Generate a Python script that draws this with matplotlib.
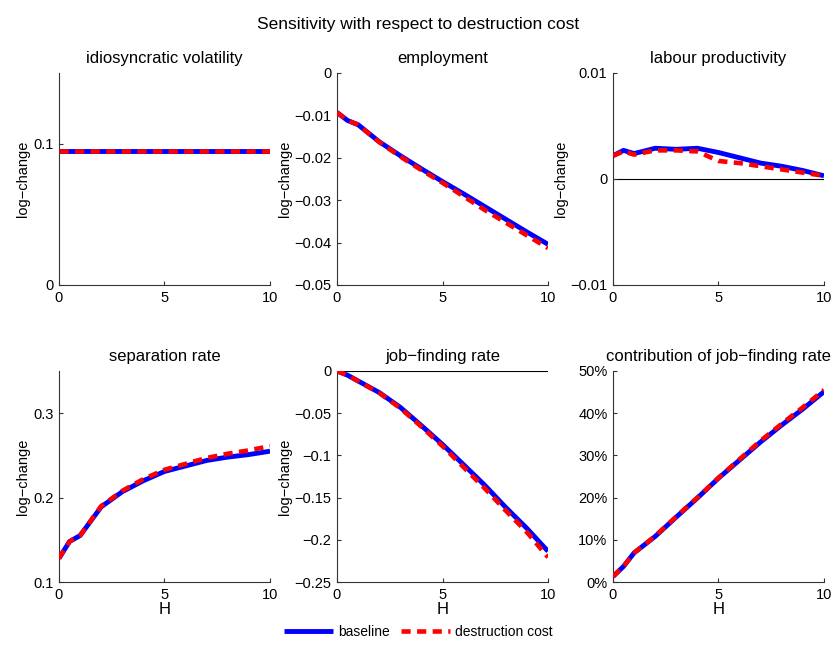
import matplotlib
matplotlib.use("Agg")
import matplotlib.pyplot as plt
from matplotlib.ticker import FuncFormatter

plt.rcParams['font.family'] = ['Liberation Sans', 'DejaVu Sans']

H = [0, 0.5, 1, 2, 3, 4, 5, 6, 7, 8, 9, 10]

vol_base = [0.095] * 12
vol_dest = [0.095] * 12

emp_base = [-0.0093, -0.0112, -0.0122, -0.0162, -0.0195, -0.0226, -0.0256, -0.0285, -0.0315, -0.0345, -0.0375, -0.0404]
emp_dest = [-0.0093, -0.0112, -0.0122, -0.0163, -0.0197, -0.0229, -0.0259, -0.0291, -0.0323, -0.0353, -0.0383, -0.0413]

prod_base = [0.0022, 0.0027, 0.0024, 0.0029, 0.0028, 0.0029, 0.0025, 0.0020, 0.0015, 0.0012, 0.0008, 0.0003]
prod_dest = [0.0022, 0.0026, 0.0023, 0.0027, 0.0027, 0.0026, 0.0017, 0.0015, 0.0012, 0.0009, 0.0006, 0.0003]

sep_base = [0.128, 0.148, 0.155, 0.189, 0.207, 0.220, 0.231, 0.2375, 0.244, 0.248, 0.251, 0.255]
sep_dest = [0.128, 0.148, 0.155, 0.190, 0.208, 0.222, 0.233, 0.240, 0.247, 0.252, 0.256, 0.261]

jf_base = [0.0, -0.005, -0.0118, -0.0255, -0.043, -0.0647, -0.087, -0.111, -0.1353, -0.1617, -0.1865, -0.2136]
jf_dest = [0.0, -0.005, -0.0120, -0.0260, -0.044, -0.066, -0.089, -0.114, -0.139, -0.1655, -0.191, -0.2207]

contr_base = [0.013, 0.037, 0.069, 0.108, 0.154, 0.199, 0.246, 0.289, 0.332, 0.372, 0.410, 0.451]
contr_dest = [0.013, 0.037, 0.069, 0.109, 0.155, 0.200, 0.247, 0.291, 0.335, 0.375, 0.414, 0.455]

titles = ['idiosyncratic volatility', 'employment', 'labour productivity',
          'separation rate', 'job\u2212finding rate', 'contribution of job\u2212finding rate']
series = [(vol_base, vol_dest), (emp_base, emp_dest), (prod_base, prod_dest),
          (sep_base, sep_dest), (jf_base, jf_dest), (contr_base, contr_dest)]
ylims = [(0, 0.15), (-0.05, 0), (-0.01, 0.01), (0.1, 0.35), (-0.25, 0), (0, 0.5)]
yticks = [[0, 0.1], [-0.05, -0.04, -0.03, -0.02, -0.01, 0], [-0.01, 0, 0.01],
          [0.1, 0.2, 0.3], [-0.25, -0.2, -0.15, -0.1, -0.05, 0], [0, 0.1, 0.2, 0.3, 0.4, 0.5]]
zero_line = [False, False, True, False, True, False]

W, Hh = 837, 646
fig = plt.figure(figsize=(W / 100, Hh / 100), dpi=100)

lefts = [59, 337, 613]
aw = 211
rows = [(73, 285), (371, 582)]


def gfmt(v, pos):
    s = '%g' % round(v, 6)
    return s.replace('-', '\u2212')


def pfmt(v, pos):
    return '%d%%' % round(v * 100)


axes = []
for i in range(6):
    r, c = divmod(i, 3)
    top, bot = rows[r]
    ax = fig.add_axes([lefts[c] / W, (Hh - bot) / Hh, aw / W, (bot - top) / Hh])
    b, d = series[i]
    if zero_line[i]:
        ax.axhline(0, color='black', lw=0.8, zorder=1)
    lb, = ax.plot(H, b, color='#0000ff', lw=3.5, solid_capstyle='butt', zorder=2)
    ld, = ax.plot(H, d, color='#ff0000', lw=3.3, dashes=(2.0, 1.4), zorder=3)
    ax.set_xlim(0, 10)
    ax.set_ylim(*ylims[i])
    ax.set_xticks([0, 5, 10])
    ax.set_yticks(yticks[i])
    ax.yaxis.set_major_formatter(FuncFormatter(pfmt if i == 5 else gfmt))
    ax.xaxis.set_major_formatter(FuncFormatter(gfmt))
    for s in ['top', 'right']:
        ax.spines[s].set_visible(False)
    for s in ['left', 'bottom']:
        ax.spines[s].set_color('#333333')
        ax.spines[s].set_linewidth(0.8)
    ax.tick_params(direction='in', length=3, width=0.8, labelsize=10.5, pad=4,
                   color='#333333')
    ax.set_title(titles[i], fontsize=12, pad=7)
    if i != 5:
        ax.set_ylabel('log\u2212change', fontsize=10.5, labelpad=2)
    if r == 1:
        ax.set_xlabel('H', fontsize=12, labelpad=0)
    axes.append(ax)

fig.suptitle('Sensitivity with respect to destruction cost', fontsize=12.5,
             y=1 - 25 / Hh, va='center')
fig.legend([lb, ld], ['baseline', 'destruction cost'], loc='center',
           bbox_to_anchor=(0.5, 1 - 632 / Hh), ncol=2, frameon=False,
           fontsize=10, handlelength=3.5, columnspacing=0.8, handletextpad=0.4)

fig.savefig('out.png', dpi=100)
